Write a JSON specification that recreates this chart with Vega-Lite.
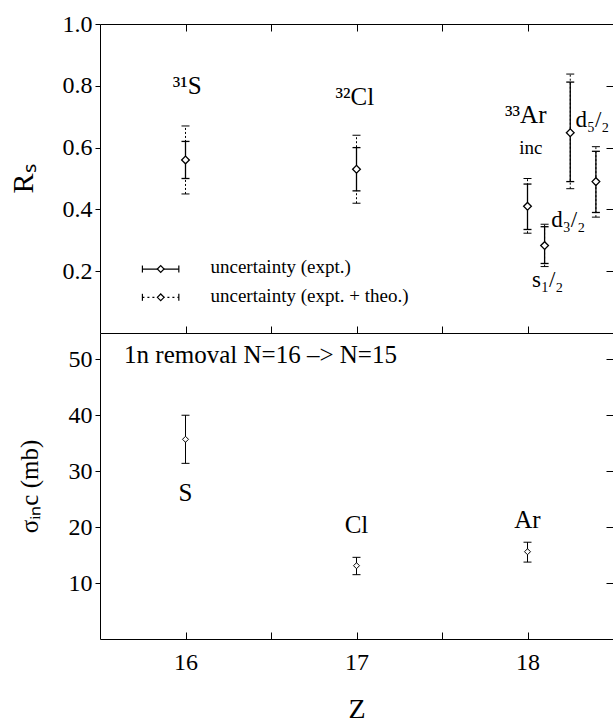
{
  "$schema": "https://vega.github.io/schema/vega-lite/v6.json",
  "padding": {"left": 8, "top": 12, "right": 0, "bottom": 0},
  "spacing": 0,
  "bounds": "flush",
  "config": {
    "view": {"stroke": null},
    "font": "Liberation Serif, Times New Roman, serif",
    "text": {"font": "Liberation Serif, Times New Roman, serif"},
    "axis": {
      "labelFont": "Liberation Serif, Times New Roman, serif",
      "labelFontSize": 24,
      "labelColor": "black",
      "titleFont": "Liberation Serif, Times New Roman, serif",
      "titleFontWeight": "normal",
      "titleColor": "black",
      "tickColor": "black",
      "domainColor": "black",
      "grid": false
    }
  },
  "datasets": {
    "rs": [
      {"z": 16, "v": 0.56, "elo": 0.50, "ehi": 0.62, "tlo": 0.45, "thi": 0.67},
      {"z": 17, "v": 0.53, "elo": 0.46, "ehi": 0.60, "tlo": 0.42, "thi": 0.64},
      {"z": 18, "v": 0.41, "elo": 0.335, "ehi": 0.482, "tlo": 0.323, "thi": 0.50},
      {"z": 18.1, "v": 0.283, "elo": 0.225, "ehi": 0.344, "tlo": 0.215, "thi": 0.352},
      {"z": 18.25, "v": 0.648, "elo": 0.49, "ehi": 0.812, "tlo": 0.467, "thi": 0.838},
      {"z": 18.4, "v": 0.49, "elo": 0.39, "ehi": 0.588, "tlo": 0.375, "thi": 0.603}
    ],
    "sig": [
      {"z": 16, "v": 35.7, "lo": 31.4, "hi": 40.0},
      {"z": 17, "v": 13.1, "lo": 11.5, "hi": 14.6},
      {"z": 18, "v": 15.6, "lo": 13.75, "hi": 17.3}
    ],
    "legend": [
      {"kind": "expt", "y": 0.207, "ty": 0.193, "x1": 15.748, "x2": 15.961, "xm": 15.855, "xt": 16.146, "t": "uncertainty (expt.)"},
      {"kind": "total", "y": 0.1155, "ty": 0.101, "x1": 15.748, "x2": 15.961, "xm": 15.855, "xt": 16.146, "t": "uncertainty (expt. + theo.)"}
    ],
    "topCenter": [
      {"z": 16.01, "y": 0.773, "t": "³¹S"},
      {"z": 16.99, "y": 0.738, "t": "³²Cl"},
      {"z": 17.99, "y": 0.679, "t": "³³Ar"}
    ],
    "topInc": [
      {"z": 18.02, "y": 0.579, "t": "inc"}
    ],
    "topLeft": [
      {"z": 18.28, "y": 0.667, "t": "d₅/₂"},
      {"z": 18.139, "y": 0.342, "t": "d₃/₂"},
      {"z": 18.026, "y": 0.15, "t": "s₁/₂"}
    ],
    "botCenter": [
      {"z": 16, "y": 24.6, "t": "S"},
      {"z": 17, "y": 18.95, "t": "Cl"},
      {"z": 18, "y": 19.85, "t": "Ar"}
    ],
    "botNote": [
      {"z": 15.641, "y": 49.3, "t": "1n removal N=16 –> N=15"}
    ]
  },
  "vconcat": [
    {
      "width": 513,
      "height": 309,
      "resolve": {"axis": {"x": "independent", "y": "independent"}},
      "layer": [
        {
          "data": {"name": "rs"},
          "mark": {"type": "rule", "color": "black", "strokeDash": [2, 2], "strokeWidth": 1},
          "encoding": {
            "x": {"field": "z", "type": "quantitative", "scale": {"domain": [15.5, 18.5], "nice": false, "zero": false},
                  "axis": {"orient": "bottom", "values": [16, 16.5, 17, 17.5, 18], "labels": false, "tickSize": -7, "title": null}},
            "y": {"field": "tlo", "type": "quantitative", "scale": {"domain": [0, 1], "nice": false},
                  "axis": {"orient": "left", "values": [0.2, 0.4, 0.6, 0.8, 1.0], "format": ".1f", "tickSize": 5, "labelPadding": 3,
                           "labelFont": "Liberation Serif, Times New Roman, serif", "labelFontSize": 24,
                           "titleFont": "Liberation Serif, Times New Roman, serif",
                           "minExtent": 40, "maxExtent": 40, "title": "Rₛ", "titleFontSize": 30, "titlePadding": 22}},
            "y2": {"field": "thi"}
          }
        },
        {
          "data": {"name": "rs"},
          "mark": {"type": "tick", "orient": "horizontal", "size": 8, "thickness": 1, "color": "black", "opacity": 1},
          "encoding": {
            "x": {"field": "z", "type": "quantitative", "scale": {"domain": [15.5, 18.5], "nice": false, "zero": false},
                  "axis": {"orient": "top", "values": [16, 16.5, 17, 17.5, 18], "labels": false, "tickSize": -7, "title": null}},
            "y": {"field": "tlo", "type": "quantitative", "scale": {"domain": [0, 1], "nice": false},
                  "axis": {"orient": "right", "values": [0.2, 0.4, 0.6, 0.8], "labels": false, "domain": false, "tickSize": -7, "title": null}}
          }
        },
        {
          "data": {"name": "rs"},
          "mark": {"type": "tick", "orient": "horizontal", "size": 8, "thickness": 1, "color": "black", "opacity": 1},
          "encoding": {
            "x": {"field": "z", "type": "quantitative", "scale": {"domain": [15.5, 18.5], "nice": false, "zero": false}, "axis": null},
            "y": {"field": "thi", "type": "quantitative", "scale": {"domain": [0, 1], "nice": false}, "axis": null}
          }
        },
        {
          "data": {"name": "rs"},
          "mark": {"type": "rule", "color": "black", "strokeWidth": 1.3},
          "encoding": {
            "x": {"field": "z", "type": "quantitative", "scale": {"domain": [15.5, 18.5], "nice": false, "zero": false}, "axis": null},
            "y": {"field": "elo", "type": "quantitative", "scale": {"domain": [0, 1], "nice": false}, "axis": null},
            "y2": {"field": "ehi"}
          }
        },
        {
          "data": {"name": "rs"},
          "mark": {"type": "tick", "orient": "horizontal", "size": 8, "thickness": 1.3, "color": "black", "opacity": 1},
          "encoding": {
            "x": {"field": "z", "type": "quantitative", "scale": {"domain": [15.5, 18.5], "nice": false, "zero": false}, "axis": null},
            "y": {"field": "elo", "type": "quantitative", "scale": {"domain": [0, 1], "nice": false}, "axis": null}
          }
        },
        {
          "data": {"name": "rs"},
          "mark": {"type": "tick", "orient": "horizontal", "size": 8, "thickness": 1.3, "color": "black", "opacity": 1},
          "encoding": {
            "x": {"field": "z", "type": "quantitative", "scale": {"domain": [15.5, 18.5], "nice": false, "zero": false}, "axis": null},
            "y": {"field": "ehi", "type": "quantitative", "scale": {"domain": [0, 1], "nice": false}, "axis": null}
          }
        },
        {
          "data": {"name": "rs"},
          "mark": {"type": "point", "shape": "diamond", "size": 60, "filled": false, "fill": "white", "fillOpacity": 1, "stroke": "black", "strokeWidth": 1.3, "opacity": 1},
          "encoding": {
            "x": {"field": "z", "type": "quantitative", "scale": {"domain": [15.5, 18.5], "nice": false, "zero": false}, "axis": null},
            "y": {"field": "v", "type": "quantitative", "scale": {"domain": [0, 1], "nice": false}, "axis": null}
          }
        },
        {
          "data": {"name": "legend"},
          "mark": {"type": "rule", "color": "black", "strokeWidth": 1.2},
          "encoding": {
            "x": {"field": "x1", "type": "quantitative", "scale": {"domain": [15.5, 18.5], "nice": false, "zero": false}, "axis": null},
            "x2": {"field": "x2"},
            "y": {"field": "y", "type": "quantitative", "scale": {"domain": [0, 1], "nice": false}, "axis": null},
            "strokeDash": {"field": "kind", "type": "nominal", "scale": {"domain": ["expt", "total"], "range": [[1, 0], [2, 3]]}, "legend": null}
          }
        },
        {
          "data": {"name": "legend"},
          "mark": {"type": "tick", "orient": "vertical", "size": 7, "thickness": 1.2, "color": "black", "opacity": 1},
          "encoding": {
            "x": {"field": "x1", "type": "quantitative", "scale": {"domain": [15.5, 18.5], "nice": false, "zero": false}, "axis": null},
            "y": {"field": "y", "type": "quantitative", "scale": {"domain": [0, 1], "nice": false}, "axis": null}
          }
        },
        {
          "data": {"name": "legend"},
          "mark": {"type": "tick", "orient": "vertical", "size": 7, "thickness": 1.2, "color": "black", "opacity": 1},
          "encoding": {
            "x": {"field": "x2", "type": "quantitative", "scale": {"domain": [15.5, 18.5], "nice": false, "zero": false}, "axis": null},
            "y": {"field": "y", "type": "quantitative", "scale": {"domain": [0, 1], "nice": false}, "axis": null}
          }
        },
        {
          "data": {"name": "legend"},
          "mark": {"type": "point", "shape": "diamond", "size": 45, "filled": false, "fill": "white", "fillOpacity": 1, "stroke": "black", "strokeWidth": 1.2, "opacity": 1},
          "encoding": {
            "x": {"field": "xm", "type": "quantitative", "scale": {"domain": [15.5, 18.5], "nice": false, "zero": false}, "axis": null},
            "y": {"field": "y", "type": "quantitative", "scale": {"domain": [0, 1], "nice": false}, "axis": null}
          }
        },
        {
          "data": {"name": "legend"},
          "mark": {"type": "text", "align": "left", "baseline": "alphabetic", "fontSize": 19, "font": "Liberation Serif, Times New Roman, serif", "color": "black"},
          "encoding": {
            "x": {"field": "xt", "type": "quantitative", "scale": {"domain": [15.5, 18.5], "nice": false, "zero": false}, "axis": null},
            "y": {"field": "ty", "type": "quantitative", "scale": {"domain": [0, 1], "nice": false}, "axis": null},
            "text": {"field": "t"}
          }
        },
        {
          "data": {"name": "topCenter"},
          "mark": {"type": "text", "align": "center", "baseline": "alphabetic", "fontSize": 25, "font": "Liberation Serif, Times New Roman, serif", "color": "black"},
          "encoding": {
            "x": {"field": "z", "type": "quantitative", "scale": {"domain": [15.5, 18.5], "nice": false, "zero": false}, "axis": null},
            "y": {"field": "y", "type": "quantitative", "scale": {"domain": [0, 1], "nice": false}, "axis": null},
            "text": {"field": "t"}
          }
        },
        {
          "data": {"name": "topInc"},
          "mark": {"type": "text", "align": "center", "baseline": "alphabetic", "fontSize": 19, "font": "Liberation Serif, Times New Roman, serif", "color": "black"},
          "encoding": {
            "x": {"field": "z", "type": "quantitative", "scale": {"domain": [15.5, 18.5], "nice": false, "zero": false}, "axis": null},
            "y": {"field": "y", "type": "quantitative", "scale": {"domain": [0, 1], "nice": false}, "axis": null},
            "text": {"field": "t"}
          }
        },
        {
          "data": {"name": "topLeft"},
          "mark": {"type": "text", "align": "left", "baseline": "alphabetic", "fontSize": 23, "font": "Liberation Serif, Times New Roman, serif", "color": "black"},
          "encoding": {
            "x": {"field": "z", "type": "quantitative", "scale": {"domain": [15.5, 18.5], "nice": false, "zero": false}, "axis": null},
            "y": {"field": "y", "type": "quantitative", "scale": {"domain": [0, 1], "nice": false}, "axis": null},
            "text": {"field": "t"}
          }
        }
      ]
    },
    {
      "width": 513,
      "height": 306,
      "resolve": {"axis": {"x": "independent", "y": "independent"}},
      "layer": [
        {
          "data": {"name": "sig"},
          "mark": {"type": "rule", "color": "black", "strokeWidth": 1},
          "encoding": {
            "x": {"field": "z", "type": "quantitative", "scale": {"domain": [15.5, 18.5], "nice": false, "zero": false},
                  "axis": {"orient": "bottom", "values": [16, 16.5, 17, 17.5, 18], "labelExpr": "datum.value % 1 === 0 ? format(datum.value, 'd') : ''",
                           "labelFont": "Liberation Serif, Times New Roman, serif", "labelFontSize": 24,
                           "titleFont": "Liberation Serif, Times New Roman, serif",
                           "tickSize": -7, "labelPadding": 18, "title": "Z", "titleFontSize": 28, "titlePadding": 21}},
            "y": {"field": "lo", "type": "quantitative", "scale": {"domain": [0, 54.7], "nice": false},
                  "axis": {"orient": "left", "values": [10, 20, 30, 40, 50], "tickSize": 5, "labelPadding": 3,
                           "labelFont": "Liberation Serif, Times New Roman, serif", "labelFontSize": 24,
                           "titleFont": "Liberation Serif, Times New Roman, serif",
                           "minExtent": 40, "maxExtent": 40, "title": "σᵢₙc (mb)", "titleFontSize": 25, "titlePadding": 18}},
            "y2": {"field": "hi"}
          }
        },
        {
          "data": {"name": "sig"},
          "mark": {"type": "tick", "orient": "horizontal", "size": 8, "thickness": 1, "color": "black", "opacity": 1},
          "encoding": {
            "x": {"field": "z", "type": "quantitative", "scale": {"domain": [15.5, 18.5], "nice": false, "zero": false}, "axis": null},
            "y": {"field": "lo", "type": "quantitative", "scale": {"domain": [0, 54.7], "nice": false},
                  "axis": {"orient": "right", "values": [10, 20, 30, 40, 50], "labels": false, "domain": false, "tickSize": -7, "title": null}}
          }
        },
        {
          "data": {"name": "sig"},
          "mark": {"type": "tick", "orient": "horizontal", "size": 8, "thickness": 1, "color": "black", "opacity": 1},
          "encoding": {
            "x": {"field": "z", "type": "quantitative", "scale": {"domain": [15.5, 18.5], "nice": false, "zero": false}, "axis": null},
            "y": {"field": "hi", "type": "quantitative", "scale": {"domain": [0, 54.7], "nice": false}, "axis": null}
          }
        },
        {
          "data": {"name": "sig"},
          "mark": {"type": "point", "shape": "diamond", "size": 36, "filled": false, "fill": "white", "fillOpacity": 1, "stroke": "black", "strokeWidth": 1, "opacity": 1},
          "encoding": {
            "x": {"field": "z", "type": "quantitative", "scale": {"domain": [15.5, 18.5], "nice": false, "zero": false}, "axis": null},
            "y": {"field": "v", "type": "quantitative", "scale": {"domain": [0, 54.7], "nice": false}, "axis": null}
          }
        },
        {
          "data": {"name": "botCenter"},
          "mark": {"type": "text", "align": "center", "baseline": "alphabetic", "fontSize": 25, "font": "Liberation Serif, Times New Roman, serif", "color": "black"},
          "encoding": {
            "x": {"field": "z", "type": "quantitative", "scale": {"domain": [15.5, 18.5], "nice": false, "zero": false}, "axis": null},
            "y": {"field": "y", "type": "quantitative", "scale": {"domain": [0, 54.7], "nice": false}, "axis": null},
            "text": {"field": "t"}
          }
        },
        {
          "data": {"name": "botNote"},
          "mark": {"type": "text", "align": "left", "baseline": "alphabetic", "fontSize": 25, "font": "Liberation Serif, Times New Roman, serif", "color": "black"},
          "encoding": {
            "x": {"field": "z", "type": "quantitative", "scale": {"domain": [15.5, 18.5], "nice": false, "zero": false}, "axis": null},
            "y": {"field": "y", "type": "quantitative", "scale": {"domain": [0, 54.7], "nice": false}, "axis": null},
            "text": {"field": "t"}
          }
        }
      ]
    }
  ]
}
